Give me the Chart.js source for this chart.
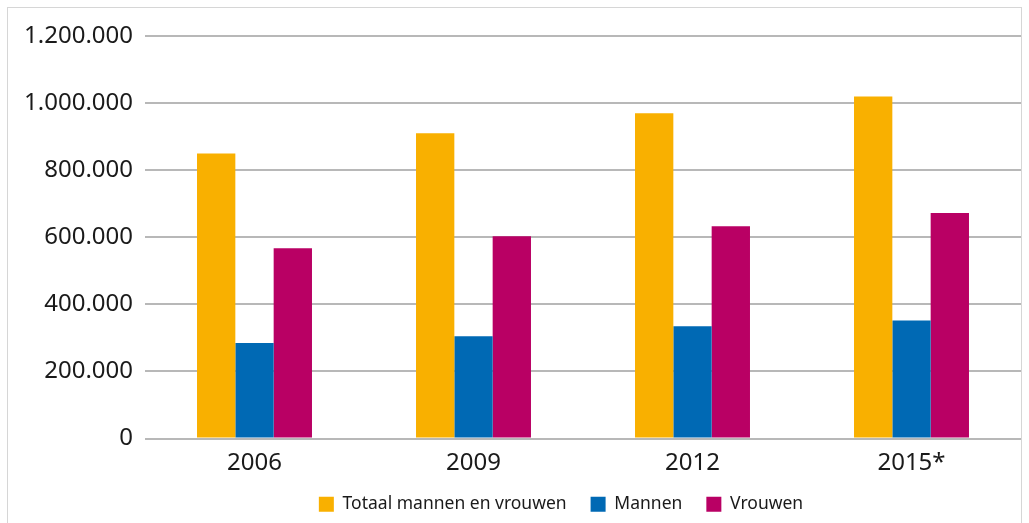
<!DOCTYPE html>
<html>
<head>
<meta charset="utf-8">
<script src="https://cdn.jsdelivr.net/npm/chart.js@4"></script>
<style>
  body { margin: 0; background: #fff; }
  #wrap { position: relative; width: 1029px; height: 523px; overflow: hidden; }
  #frame { position: absolute; left: 7px; top: 7px; width: 1015px; height: 530px; border: 1px solid #d6d6d6; box-sizing: border-box; }
  canvas { position: absolute; left: 0; top: 0; }
</style>
</head>
<body>
<div id="wrap">
  <div id="frame"></div>
  <canvas id="myChart" width="1029" height="530"></canvas>
</div>
<script>
const years = ['2006', '2009', '2012', '2015*'];
const totaal = [850000, 910000, 970000, 1020000];
const mannen = [285000, 305000, 335000, 352000];
const vrouwen = [567000, 603000, 633000, 672000];
const yTicks = [0, 200000, 400000, 600000, 800000, 1000000, 1200000];

const ctx = document.getElementById('myChart').getContext('2d');

// dutch number format, dots as thousands separator
function fmt(v) {
    return String(v).replace(/\B(?=(\d{3})+(?!\d))/g, '.');
}

// pull the legend a bit closer to the x labels and a bit to the left
const legendShift = {
    id: 'legendShift',
    afterLayout(chart) {
        const lg = chart.legend;
        lg.top -= 7; lg.bottom -= 7;
        lg.left -= 22; lg.right -= 22;
    }
};

const myChart = new Chart(ctx, {
    type: 'bar',
    data: {
        labels: years,
        datasets: [
            { label: 'Totaal mannen en vrouwen', data: totaal, backgroundColor: '#F9B000' },
            { label: 'Mannen', data: mannen, backgroundColor: '#0069B4' },
            { label: 'Vrouwen', data: vrouwen, backgroundColor: '#B90064' }
        ]
    },
    options: {
        responsive: false,
        animation: false,
        layout: { padding: { top: 36, right: 8, bottom: 0, left: 0 } },
        datasets: {
            bar: { categoryPercentage: 0.525, barPercentage: 1 }
        },
        plugins: {
            tooltip: { enabled: false },
            legend: {
                position: 'bottom',
                fullSize: false,
                labels: {
                    font: { family: 'Noto Sans', size: 17.5 },
                    color: '#1a1a1a',
                    boxWidth: 15,
                    boxHeight: 15,
                    padding: 24
                }
            }
        },
        scales: {
            x: {
                grid: { display: false, drawTicks: false },
                border: { display: false },
                afterFit: scale => { scale.height = 40; },
                ticks: {
                    font: { family: 'Noto Sans', size: 24 },
                    color: '#1a1a1a',
                    padding: 10
                }
            },
            y: {
                min: 0,
                max: 1200000,
                afterBuildTicks: scale => { scale.ticks = yTicks.map(v => ({ value: v })); },
                afterFit: scale => { scale.width = 145; },
                grid: { color: '#b8b8b8', lineWidth: 2, drawTicks: false },
                border: { display: false },
                ticks: {
                    font: { family: 'Noto Sans', size: 24 },
                    color: '#1a1a1a',
                    padding: 12,
                    callback: v => fmt(v)
                }
            }
        }
    },
    plugins: [legendShift]
});
</script>
</body>
</html>
